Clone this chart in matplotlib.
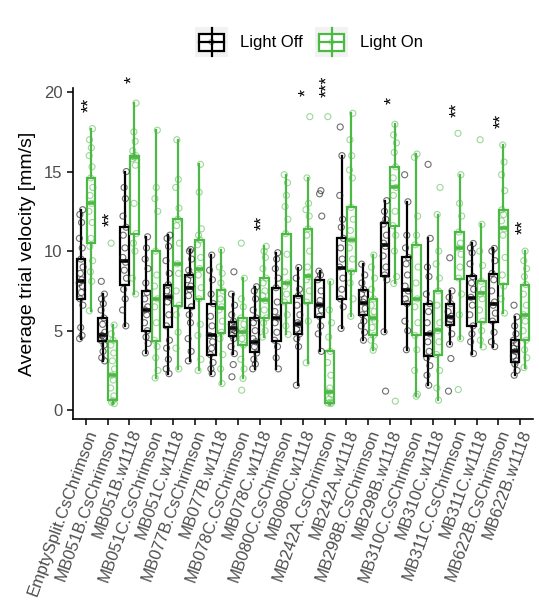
import matplotlib
matplotlib.use('Agg')
import matplotlib.pyplot as plt
from matplotlib.patches import Rectangle

plt.rcParams['font.family'] = ['Liberation Sans', 'DejaVu Sans']

genotypes = ['EmptySplit.CsChrimson', 'MB051B.CsChrimson', 'MB051B.w1118',
             'MB051C.CsChrimson', 'MB051C.w1118', 'MB077B.CsChrimson',
             'MB077B.w1118', 'MB078C.CsChrimson', 'MB078C.w1118',
             'MB080C.CsChrimson', 'MB080C.w1118', 'MB242A.CsChrimson',
             'MB242A.w1118', 'MB298B.CsChrimson', 'MB298B.w1118',
             'MB310C.CsChrimson', 'MB310C.w1118', 'MB311C.CsChrimson',
             'MB311C.w1118', 'MB622B.CsChrimson', 'MB622B.w1118']

# box stats (q1, median, q3, whisker low, whisker high)
off_q1 = [7.0, 4.34, 7.9, 5.0, 5.24, 6.44, 3.5, 4.65, 3.63, 4.36, 4.78, 5.87, 7.0, 5.97, 8.43, 6.7, 3.4, 5.35, 5.28, 5.56, 3.04]
off_med = [8.1, 4.7, 9.4, 6.33, 7.13, 7.7, 4.7, 5.14, 4.3, 5.8, 5.45, 6.6, 8.97, 6.77, 10.38, 7.55, 4.76, 5.87, 7.06, 6.65, 3.7]
off_q3 = [9.5, 5.8, 11.5, 7.5, 7.88, 8.53, 6.7, 5.56, 5.8, 7.7, 7.17, 8.18, 10.8, 7.55, 11.74, 9.6, 6.67, 6.7, 8.43, 8.55, 4.4]
off_lo = [4.5, 3.1, 5.3, 3.6, 2.3, 3.1, 2.3, 3.56, 2.6, 2.6, 1.57, 3.7, 5.14, 4.4, 4.93, 3.8, 1.57, 4.15, 3.56, 4.0, 2.2]
off_hi = [12.6, 7.3, 15.0, 10.9, 11.0, 10.1, 9.75, 7.3, 7.76, 9.9, 8.97, 8.74, 16.0, 9.18, 13.17, 13.1, 10.8, 7.5, 10.48, 10.17, 5.87]

on_q1 = [10.5, 0.63, 11.1, 4.36, 6.54, 6.96, 4.86, 4.13, 5.8, 6.75, 6.75, 0.48, 8.74, 4.7, 11.6, 4.7, 3.46, 8.26, 5.56, 7.92, 4.44]
on_med = [13.0, 2.24, 15.9, 6.96, 9.18, 8.9, 6.4, 4.93, 6.9, 8.0, 8.43, 1.15, 10.7, 5.8, 14.0, 6.98, 5.03, 10.2, 7.34, 11.43, 5.97]
on_q3 = [14.6, 4.34, 16.0, 10.0, 12.0, 10.7, 7.55, 5.8, 8.34, 11.1, 11.36, 3.7, 12.75, 6.96, 15.26, 10.38, 7.5, 11.2, 8.13, 12.58, 7.86]
on_lo = [6.25, 0.42, 7.3, 2.03, 2.6, 2.5, 1.68, 2.0, 4.6, 4.76, 2.98, 0.42, 5.9, 3.77, 7.97, 0.88, 0.63, 4.5, 3.98, 6.1, 2.68]
on_hi = [17.7, 5.35, 19.3, 17.6, 17.0, 15.45, 10.06, 8.3, 10.3, 14.8, 14.6, 8.07, 18.66, 9.75, 17.97, 16.1, 12.3, 14.8, 11.68, 16.67, 10.0]

# single flies
off_points = [
    [4.5, 4.7, 5.2, 6.6, 7.0, 7.4, 7.8, 8.0, 8.2, 8.6, 9.0, 9.5, 10.2, 10.8, 11.8, 12.3, 12.6],
    [3.1, 3.3, 3.7, 4.1, 4.4, 4.6, 4.7, 4.9, 5.4, 5.8, 6.3, 6.7, 7.0, 7.3, 8.1],
    [5.3, 6.3, 7.0, 7.6, 8.3, 8.8, 9.3, 9.6, 10.2, 11.0, 11.5, 12.2, 13.3, 14.0, 15.0],
    [3.6, 4.2, 4.6, 5.0, 5.5, 6.0, 6.3, 6.5, 7.0, 7.4, 8.0, 8.9, 9.5, 10.2, 10.9],
    [2.3, 2.6, 3.2, 3.9, 4.4, 5.3, 6.0, 6.8, 7.1, 7.5, 7.9, 8.6, 9.4, 10.3, 10.8, 11.0],
    [3.1, 3.7, 4.5, 5.5, 6.0, 6.5, 7.2, 7.6, 7.8, 8.2, 8.5, 8.8, 9.5, 10.0, 10.1],
    [2.3, 2.6, 3.0, 3.5, 3.9, 4.3, 4.7, 5.3, 5.9, 6.7, 7.3, 8.2, 8.8, 9.75],
    [2.1, 2.87, 3.56, 4.0, 4.5, 4.7, 5.0, 5.1, 5.2, 5.4, 5.6, 6.0, 6.6, 7.3, 8.7],
    [2.6, 2.9, 3.2, 3.6, 4.0, 4.3, 4.5, 5.0, 5.5, 5.8, 6.3, 7.0, 7.5, 7.76],
    [2.6, 3.3, 4.0, 4.4, 4.9, 5.5, 5.8, 6.2, 6.8, 7.7, 8.3, 8.9, 9.5, 9.9],
    [1.57, 4.0, 4.5, 4.8, 5.1, 5.4, 5.5, 6.0, 6.6, 7.2, 7.6, 8.3, 8.97],
    [3.7, 4.8, 5.3, 5.9, 6.3, 6.6, 6.9, 7.5, 8.2, 8.5, 8.74, 12.2, 13.6, 13.8],
    [5.14, 6.5, 7.0, 7.6, 8.3, 9.0, 9.5, 10.2, 10.8, 11.5, 12.0, 13.5, 16.0, 17.8],
    [4.4, 4.9, 5.3, 5.6, 6.0, 6.4, 6.8, 7.0, 7.3, 7.6, 8.0, 8.5, 9.18],
    [1.2, 4.93, 8.2, 8.5, 9.0, 9.7, 10.3, 10.5, 11.0, 11.7, 12.0, 12.5, 13.17],
    [3.8, 5.0, 5.6, 6.7, 7.0, 7.5, 7.8, 8.5, 9.2, 9.6, 10.2, 11.0, 13.1, 14.8],
    [1.57, 2.2, 2.8, 3.3, 3.7, 4.3, 4.8, 5.5, 6.2, 6.7, 7.3, 8.4, 9.0, 10.8, 15.45],
    [1.2, 3.25, 4.15, 4.8, 5.4, 5.7, 5.9, 6.2, 6.7, 7.1, 7.5, 9.58],
    [3.56, 4.3, 4.8, 5.3, 6.0, 6.6, 7.1, 7.6, 8.0, 8.4, 9.2, 9.9, 10.2, 10.48],
    [4.0, 4.3, 4.9, 5.6, 6.1, 6.6, 6.8, 7.5, 8.2, 8.6, 9.4, 10.0, 10.17],
    [2.2, 2.5, 2.9, 3.1, 3.4, 3.7, 3.9, 4.2, 4.4, 4.8, 5.3, 5.87, 6.6],
]
on_points = [
    [6.25, 8.1, 8.7, 9.4, 10.3, 10.8, 11.8, 12.5, 13.0, 13.5, 14.0, 14.6, 15.3, 16.0, 16.5, 17.0, 17.7],
    [0.42, 0.5, 0.6, 0.9, 1.4, 1.9, 2.2, 2.6, 3.1, 3.6, 4.1, 4.4, 4.8, 5.35, 10.5],
    [7.3, 8.3, 10.0, 10.5, 11.1, 13.0, 15.4, 15.8, 15.9, 15.95, 16.0, 16.3, 16.9, 17.5, 19.3],
    [2.03, 2.5, 3.3, 4.0, 4.4, 5.5, 6.5, 7.0, 7.8, 8.5, 10.0, 12.5, 13.3, 14.0, 17.6],
    [2.6, 3.9, 4.9, 6.0, 6.6, 7.5, 8.6, 9.2, 10.5, 11.6, 12.0, 12.7, 14.0, 14.5, 17.0],
    [2.5, 3.2, 4.7, 5.4, 7.0, 7.7, 8.5, 8.9, 9.6, 10.4, 10.7, 11.0, 11.4, 13.7, 15.45],
    [1.68, 2.6, 3.5, 4.5, 4.9, 5.6, 6.3, 6.5, 7.0, 7.5, 8.0, 8.6, 9.0, 10.06],
    [1.26, 2.0, 2.6, 3.2, 4.1, 4.5, 4.9, 5.0, 5.4, 5.8, 6.5, 7.0, 8.3, 10.5],
    [4.6, 5.0, 5.5, 5.8, 6.3, 6.9, 7.2, 7.5, 8.0, 8.3, 8.9, 9.6, 10.0, 10.3],
    [4.76, 5.3, 6.0, 6.8, 7.3, 7.8, 8.0, 8.7, 9.8, 11.1, 12.0, 12.8, 13.5, 14.3, 14.8],
    [2.98, 5.6, 6.8, 7.5, 8.2, 8.4, 9.0, 10.0, 11.0, 11.4, 12.2, 12.6, 13.0, 14.6, 18.45],
    [0.42, 0.45, 0.5, 0.7, 1.0, 1.15, 1.4, 2.2, 3.0, 3.7, 4.6, 5.5, 6.3, 8.07, 18.45],
    [5.9, 7.0, 8.0, 8.7, 9.5, 10.2, 10.7, 11.3, 12.0, 12.75, 14.6, 15.1, 16.0, 17.0, 18.66],
    [3.77, 4.0, 4.4, 4.7, 5.2, 5.6, 5.8, 6.2, 6.6, 7.0, 7.6, 8.3, 9.0, 9.75],
    [0.57, 7.97, 8.4, 10.0, 11.0, 11.6, 12.5, 13.5, 14.0, 14.6, 15.3, 16.2, 16.8, 17.3, 17.97],
    [0.88, 1.0, 2.5, 3.8, 4.7, 5.5, 6.5, 7.0, 8.0, 9.0, 10.4, 11.0, 12.2, 15.9, 16.1],
    [0.63, 1.4, 2.5, 3.5, 4.3, 5.0, 5.5, 6.6, 7.5, 8.3, 9.2, 10.0, 12.3, 14.0],
    [1.3, 4.5, 6.0, 7.3, 8.3, 9.0, 9.8, 10.2, 10.5, 11.2, 12.2, 13.0, 14.8, 17.4],
    [3.98, 4.4, 5.0, 5.6, 6.3, 7.0, 7.3, 7.6, 8.1, 9.1, 10.0, 11.68, 17.0],
    [6.1, 7.0, 7.8, 8.5, 9.6, 11.0, 11.4, 11.9, 12.3, 12.6, 13.8, 14.8, 15.6, 16.67],
    [2.68, 3.3, 3.8, 4.4, 5.0, 5.6, 6.0, 6.6, 7.3, 7.9, 8.4, 8.9, 9.4, 10.0],
]

star_idx = [0, 1, 2, 8, 10, 11, 14, 17, 19, 20]
star_txt = ['**', '**', '*', '**', '*', '***', '*', '**', '**', '**']

green = '#4cb944'
grey_txt = '#4d4d4d'
jit = [-0.07, 0.04, -0.02, 0.08, -0.05, 0.01, 0.06, -0.09, 0.03, -0.04,
       0.09, -0.01, 0.05, -0.08, 0.02, -0.06, 0.07]

fig = plt.figure(figsize=(5.39, 6.09), dpi=100)
ax = fig.add_axes([73 / 539, 1 - 419 / 609, 460 / 539, 331 / 609])

n = len(genotypes)
pos_off = [i - 0.225 for i in range(n)]
pos_on = [i + 0.225 for i in range(n)]


def make_stats(q1, med, q3, lo, hi):
    out = []
    for i in range(len(med)):
        out.append(dict(q1=q1[i], med=med[i], q3=q3[i], whislo=lo[i], whishi=hi[i], fliers=[]))
    return out


for stats, pos, col in [(make_stats(off_q1, off_med, off_q3, off_lo, off_hi), pos_off, 'black'),
                        (make_stats(on_q1, on_med, on_q3, on_lo, on_hi), pos_on, green)]:
    ax.bxp(stats, positions=pos, widths=0.4, showfliers=False, showcaps=False,
           patch_artist=True, manage_ticks=False,
           boxprops=dict(facecolor='none', edgecolor=col, linewidth=1.6),
           medianprops=dict(color=col, linewidth=2.6, solid_capstyle='butt'),
           whiskerprops=dict(color=col, linewidth=1.6))

for pts_list, pos, col, a in [(off_points, pos_off, '#222222', 0.65), (on_points, pos_on, green, 0.55)]:
    for i, pts in enumerate(pts_list):
        xs = [pos[i] + jit[(j + 3 * i) % len(jit)] for j in range(len(pts))]
        ax.scatter(xs, pts, s=19, facecolors='none', edgecolors=col, linewidths=0.8,
                   alpha=a, zorder=3)

for k, t in zip(star_idx, star_txt):
    top = max(off_points[k] + on_points[k])
    dy = 1.9 if len(t) == 3 else 1.5
    ax.text(k + 0.15, top + dy, t, rotation=90, ha='center', va='center',
            fontsize=13, color='black', clip_on=False)

ax.set_xlim(-0.6, n - 0.4)
ax.set_ylim(-0.55, 20.25)
ax.set_yticks([0, 5, 10, 15, 20])
ax.set_xticks(range(n))
ax.set_xticklabels(genotypes, rotation=70, ha='right', va='top', rotation_mode='anchor',
                   fontsize=12, color=grey_txt)
ax.tick_params(axis='y', labelsize=12, labelcolor=grey_txt, length=4, width=1.1)
ax.tick_params(axis='x', length=4, width=1.1, pad=2)
for s in ['top', 'right']:
    ax.spines[s].set_visible(False)
for s in ['left', 'bottom']:
    ax.spines[s].set_linewidth(1.2)
ax.set_ylabel('Average trial velocity [mm/s]', fontsize=14, labelpad=6)

# legend drawn by hand in pixel coords
lg = fig.add_axes([0, 0, 1, 1], zorder=5)
lg.set_xlim(0, 539)
lg.set_ylim(609, 0)
lg.axis('off')
for x0, col, label in [(195, 'black', 'Light Off'), (315, green, 'Light On')]:
    lg.add_patch(Rectangle((x0, 27), 33, 30, facecolor='#f2f2f2', edgecolor='none'))
    cx = x0 + 16.5
    lg.plot([cx, cx], [28, 56], color=col, lw=1.6)
    lg.add_patch(Rectangle((x0 + 4, 33.5), 25, 17, facecolor='white', edgecolor=col, lw=1.6))
    lg.plot([x0 + 4, x0 + 29], [42, 42], color=col, lw=1.6)
    lg.scatter([cx], [42], s=14, facecolors='none', edgecolors=col, alpha=0.4, linewidths=0.8)
    lg.text(x0 + 45, 42, label, fontsize=12, va='center', ha='left', color='black')

fig.savefig('out.png', dpi=100)
